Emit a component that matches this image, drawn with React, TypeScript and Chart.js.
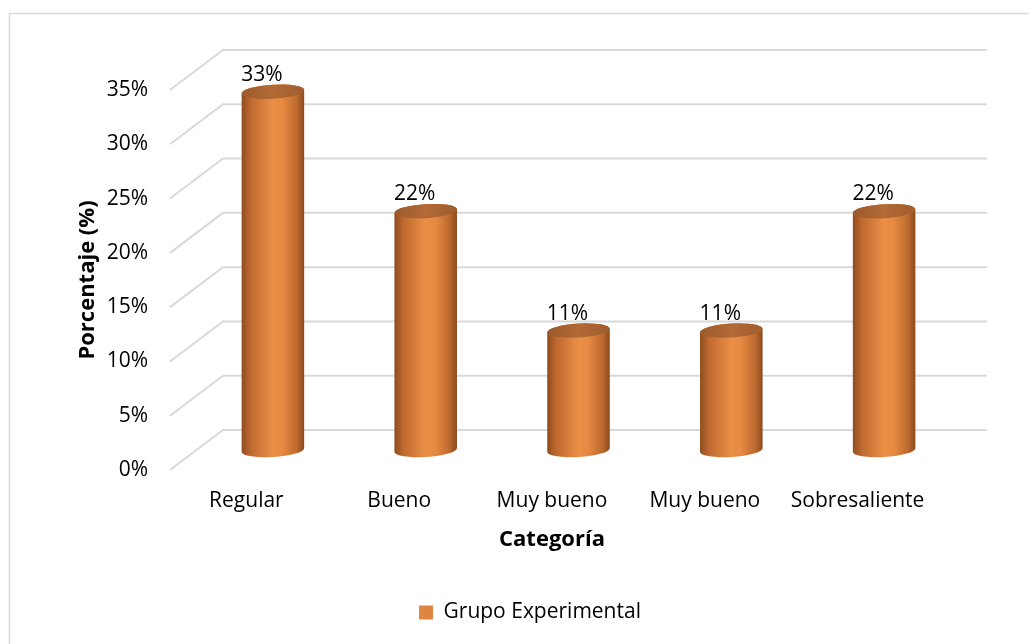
import React, { useEffect, useRef } from 'react';
import { Chart, registerables } from 'chart.js';

Chart.register(...registerables);

const categories = ['Regular', 'Bueno', 'Muy bueno', 'Muy bueno', 'Sobresaliente'];
const values = [0.33, 0.22, 0.11, 0.11, 0.22];
const seriesLabel = 'Grupo Experimental';
const yTickValues = [0, 0.05, 0.1, 0.15, 0.2, 0.25, 0.3, 0.35];
const xTitle = 'Categoría';
const yTitle = 'Porcentaje (%)';

const W = 1029;
const H = 644;
const FONT = '"Open Sans", sans-serif';
const DX = 53;
const DY = 40;
const AREA_LEFT = 170;
const AREA_RIGHT = 934;
const AREA_BOTTOM = 470;
const PAD_LEFT = 75;
const PAD_RIGHT = 44;
const PAD_BOTTOM = 11;
const pct = (v: number) => Math.round(v * 100) + '%';

const threeD = {
  id: 'threeD',
  beforeDraw(chart: any) {
    const { ctx, chartArea: a } = chart;
    const y = chart.scales.y;
    ctx.save();
    ctx.strokeStyle = '#d9d9d9';
    ctx.lineWidth = 1.5;
    ctx.beginPath();
    ctx.moveTo(9.5, chart.height);
    ctx.lineTo(9.5, 13.5);
    ctx.lineTo(chart.width, 13.5);
    ctx.stroke();
    ctx.lineWidth = 2;
    y.ticks.forEach((t: any) => {
      const py = y.getPixelForValue(t.value);
      ctx.beginPath();
      ctx.moveTo(a.left, py);
      ctx.lineTo(a.left + DX, py - DY);
      ctx.lineTo(a.right + DX, py - DY);
      ctx.stroke();
    });
    ctx.restore();
  },
  beforeDatasetDraw() {
    return false;
  },
  afterDatasetsDraw(chart: any) {
    const { ctx } = chart;
    const meta = chart.getDatasetMeta(0);
    const ds = chart.data.datasets[0];
    ctx.save();
    meta.data.forEach((bar: any, i: number) => {
      const cx = bar.x + DX / 2;
      const topY = bar.y - DY / 2;
      const baseY = bar.base - DY / 2;
      const rx = bar.width / 2;
      const ry = 7;
      const rot = -0.06;
      const g = ctx.createLinearGradient(cx - rx, 0, cx + rx, 0);
      g.addColorStop(0, '#8f4c1f');
      g.addColorStop(0.15, '#c06a30');
      g.addColorStop(0.5, '#ea8f46');
      g.addColorStop(0.65, '#e78a42');
      g.addColorStop(0.88, '#bd6a2f');
      g.addColorStop(1, '#8c4b1d');
      ctx.fillStyle = g;
      ctx.beginPath();
      ctx.ellipse(cx, baseY, rx, ry, rot, 0, Math.PI, false);
      ctx.ellipse(cx, topY, rx, ry, rot, Math.PI, 2 * Math.PI, false);
      ctx.closePath();
      ctx.fill();
      const gt = ctx.createLinearGradient(cx - rx, 0, cx + rx, 0);
      gt.addColorStop(0, '#9c5a2c');
      gt.addColorStop(0.5, '#b26a36');
      gt.addColorStop(1, '#a05d2d');
      ctx.fillStyle = gt;
      ctx.beginPath();
      ctx.ellipse(cx, topY, rx, ry, rot, 0, 2 * Math.PI);
      ctx.fill();
      ctx.fillStyle = '#000';
      ctx.font = `21px ${FONT}`;
      ctx.textAlign = 'center';
      ctx.textBaseline = 'middle';
      ctx.fillText(pct(ds.data[i]), cx - 11, topY - 17);
    });
    ctx.restore();
  },
};

export default function App() {
  const ref = useRef<HTMLCanvasElement>(null);
  useEffect(() => {
    const chart = new Chart(ref.current as HTMLCanvasElement, {
      type: 'bar',
      data: {
        labels: categories,
        datasets: [
          {
            label: seriesLabel,
            data: values,
            backgroundColor: '#DE8541',
            borderColor: '#DE8541',
            borderWidth: 0,
            categoryPercentage: 1,
            barPercentage: 0.41,
          },
        ],
      },
      options: {
        responsive: false,
        animation: false,
        devicePixelRatio: 1,
        layout: { padding: { left: PAD_LEFT, right: PAD_RIGHT, top: 90, bottom: PAD_BOTTOM } },
        plugins: {
          legend: {
            position: 'bottom',
            labels: {
              boxWidth: 14,
              boxHeight: 14,
              color: '#000',
              font: { family: FONT, size: 21 },
              padding: 10,
            },
          },
          tooltip: { enabled: false },
        },
        scales: {
          x: {
            grid: { display: false, drawTicks: false },
            border: { display: false },
            ticks: {
              color: '#000',
              font: { family: FONT, size: 21 },
              padding: 18,
              maxRotation: 0,
              autoSkip: false,
            },
            title: {
              display: true,
              text: xTitle,
              color: '#000',
              font: { family: FONT, size: 22, weight: 'bold' },
              padding: { top: 0, bottom: 39 },
            },
            afterFit(s: any) {
              const lg = s.chart.legend;
              s.height = s.chart.height - PAD_BOTTOM - (lg ? lg.height : 0) - AREA_BOTTOM;
            },
          },
          y: {
            min: 0,
            max: 0.35,
            grid: { display: false, drawTicks: false },
            border: { display: false },
            afterBuildTicks(s: any) {
              s.ticks = yTickValues.map((v) => ({ value: v }));
            },
            ticks: {
              color: '#000',
              font: { family: FONT, size: 21 },
              padding: 22,
              callback: (v: any) => pct(Number(v)),
            },
            title: {
              display: true,
              text: yTitle,
              color: '#000',
              font: { family: FONT, size: 22, weight: 'bold' },
              padding: { top: 0, bottom: 0 },
            },
            afterFit(s: any) {
              s.width = AREA_LEFT - PAD_LEFT;
            },
          },
          yRight: {
            position: 'right',
            display: true,
            grid: { display: false, drawTicks: false },
            border: { display: false },
            ticks: { display: false },
            afterFit(s: any) {
              s.width = W - PAD_RIGHT - AREA_RIGHT;
            },
          },
        },
      } as any,
      plugins: [threeD],
    });
    return () => chart.destroy();
  }, []);
  return (
    <div style={{ position: 'fixed', left: 0, top: 0, width: W, height: H, background: '#fff' }}>
      <canvas ref={ref} width={W} height={H} style={{ display: 'block' }} />
    </div>
  );
}
